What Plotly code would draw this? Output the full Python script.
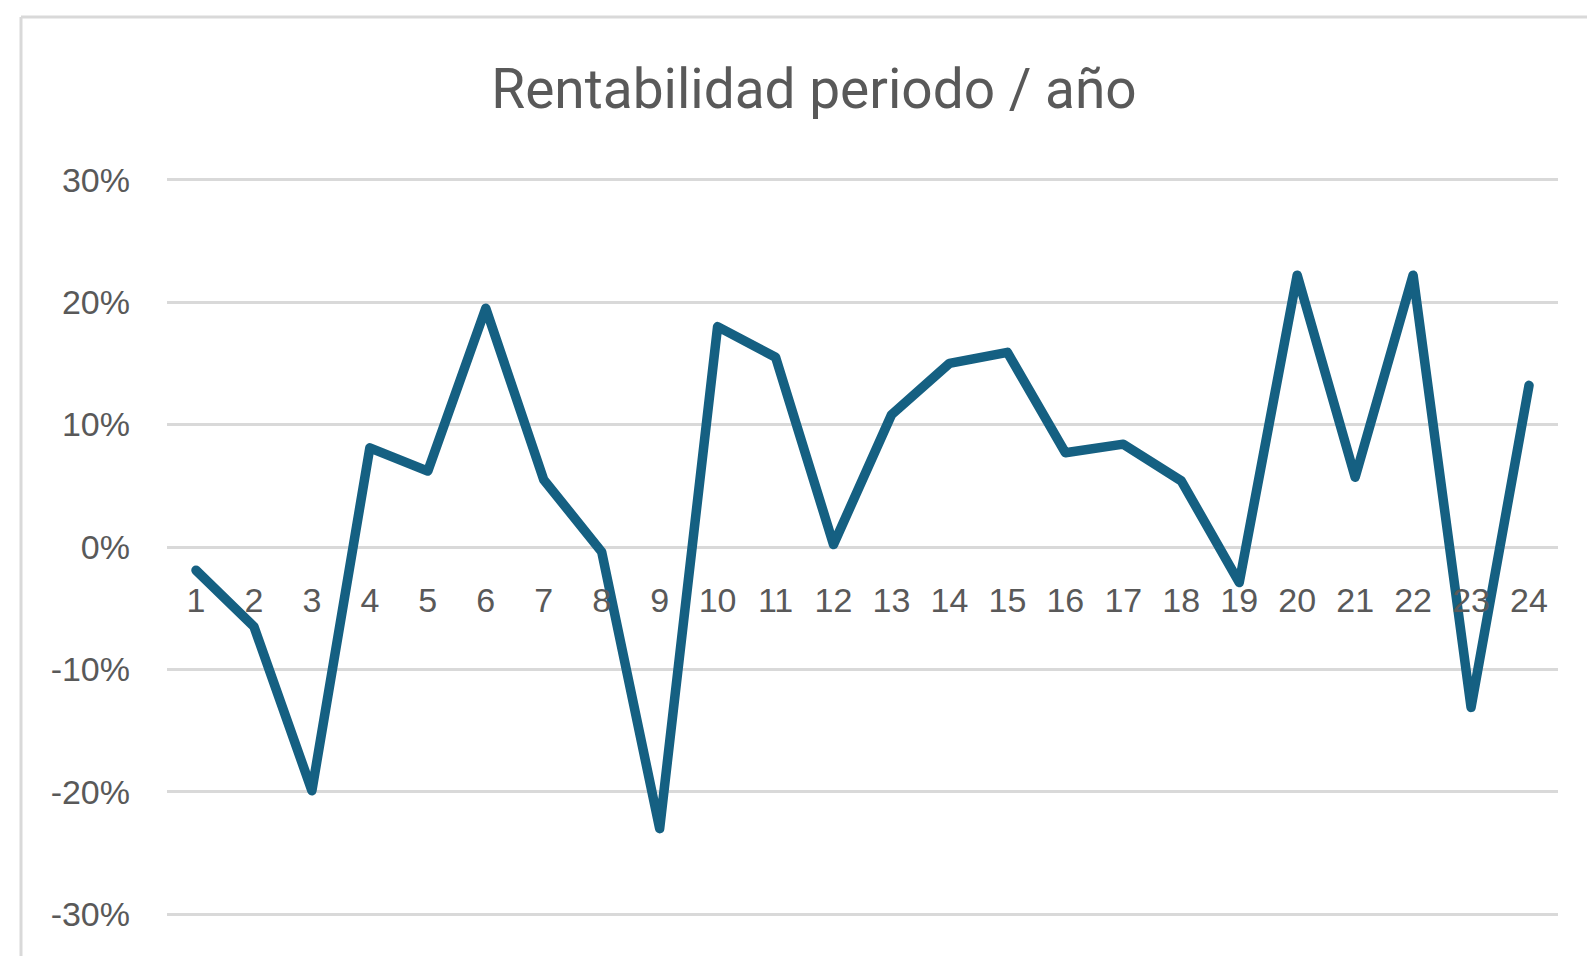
import plotly.graph_objects as go

periods = [1, 2, 3, 4, 5, 6, 7, 8, 9, 10, 11, 12, 13, 14, 15, 16, 17, 18, 19, 20, 21, 22, 23, 24]
rentabilidad = [-0.019, -0.065, -0.199, 0.081, 0.062, 0.195, 0.055, -0.004, -0.230, 0.180,
                0.155, 0.002, 0.108, 0.150, 0.159, 0.077, 0.084, 0.054, -0.029, 0.222,
                0.057, 0.222, -0.131, 0.132]
y_ticks = [-0.3, -0.2, -0.1, 0.0, 0.1, 0.2, 0.3]
y_ticktext = ["-30%", "-20%", "-10%", "0%", "10%", "20%", "30%"]
title_text = "Rentabilidad periodo / año"

W, H = 1587, 956
ML, MR, MT, MB = 167, 29, 176, 38
pw = W - ML - MR
ph = H - MT - MB

fig = go.Figure()
fig.add_trace(go.Scatter(
    x=periods, y=rentabilidad, mode="lines",
    line=dict(color="#156082", width=9.5),
    hoverinfo="x+y", showlegend=False,
))

grey = "#595959"
fig.update_layout(
    width=W, height=H,
    margin=dict(l=ML, r=MR, t=MT, b=MB, pad=0),
    paper_bgcolor="white", plot_bgcolor="white",
    title=dict(text=title_text, x=814 / W, xref="container", xanchor="center",
               y=1 - 89 / H, yref="container", yanchor="middle",
               font=dict(family="Roboto, Liberation Sans, sans-serif", size=55, color=grey)),
    xaxis=dict(
        range=[0.5, 24.5], tickmode="array", tickvals=periods,
        ticktext=[str(p) for p in periods],
        showgrid=False, zeroline=False, showline=False,
        anchor="free", position=0.5, side="bottom",
        ticks="", ticklabelstandoff=30,
        tickfont=dict(family="Liberation Sans, Arial, sans-serif", size=34, color=grey),
    ),
    yaxis=dict(
        range=[-0.303, 0.303], tickmode="array", tickvals=y_ticks, ticktext=y_ticktext,
        showgrid=True, gridcolor="#d9d9d9", gridwidth=3,
        zeroline=False, showline=False, ticks="", ticklabelstandoff=36,
        tickfont=dict(family="Liberation Sans, Arial, sans-serif", size=34, color=grey),
    ),
)

# chart-area border (left and top edges visible in the crop)
bx = (21 - ML) / pw
by = 1 + (MT - 17) / ph
fig.add_shape(type="line", xref="paper", yref="paper", x0=bx, x1=bx, y0=by, y1=-0.2,
              line=dict(color="#d9d9d9", width=3), layer="below")
fig.add_shape(type="line", xref="paper", yref="paper", x0=bx, x1=1.2, y0=by, y1=by,
              line=dict(color="#d9d9d9", width=3), layer="below")

post = """
document.body.style.margin = '0';
document.body.style.overflow = 'hidden';
document.querySelectorAll('.js-line').forEach(function(p){
  p.style.strokeLinejoin = 'round';
  p.style.strokeLinecap = 'round';
});
"""
fig.write_html("out.html", post_script=post, config={"displayModeBar": False})
